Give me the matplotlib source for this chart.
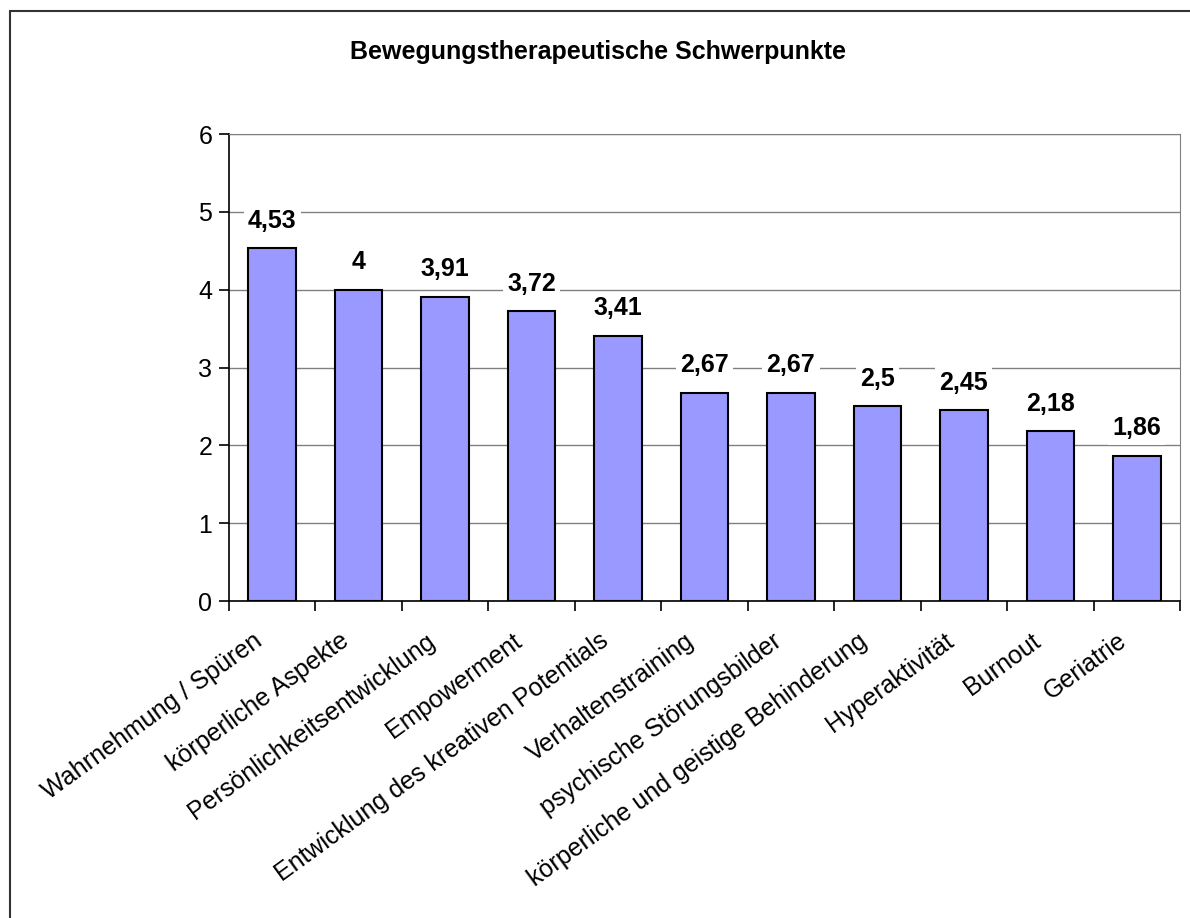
import matplotlib
matplotlib.use("Agg")
import matplotlib.pyplot as plt
from matplotlib.patches import Rectangle

plt.rcParams['font.family'] = ['Liberation Sans', 'DejaVu Sans']

# Daten
kategorien = [
    'Wahrnehmung / Spüren',
    'körperliche Aspekte',
    'Persönlichkeitsentwicklung',
    'Empowerment',
    'Entwicklung des kreativen Potentials',
    'Verhaltenstraining',
    'psychische Störungsbilder',
    'körperliche und geistige Behinderung',
    'Hyperaktivität',
    'Burnout',
    'Geriatrie',
]
werte = [4.53, 4, 3.91, 3.72, 3.41, 2.67, 2.67, 2.5, 2.45, 2.18, 1.86]
y_ticks = [0, 1, 2, 3, 4, 5, 6]
titel = 'Bewegungstherapeutische Schwerpunkte'

fig = plt.figure(figsize=(11.9, 9.18), dpi=100)
ax = fig.add_axes([0.1924, 0.3453, 0.7992, 0.5087])

# Rahmen um das ganze Diagramm
fig.patches.append(Rectangle((10 / 1190, -0.05), 1.1, 0.05 + 1 - 11 / 918,
                             transform=fig.transFigure, fill=False,
                             edgecolor='#333333', linewidth=1.5))

x = list(range(len(kategorien)))
ax.bar(x, werte, width=0.55, color='#9999FF', edgecolor='black', linewidth=1.5, zorder=3)

for xi, v in zip(x, werte):
    txt = f'{v:g}'.replace('.', ',')
    ax.annotate(txt, (xi, v), xytext=(0, 20), textcoords='offset points',
                ha='center', va='center', fontsize=18, fontweight='bold', zorder=4,
                bbox=dict(facecolor='white', edgecolor='none', pad=3))

ax.set_xlim(-0.5, len(kategorien) - 0.5)
ax.set_ylim(0, 6)
ax.set_yticks(y_ticks)
ax.set_yticklabels([str(t) for t in y_ticks], fontsize=18)
ax.yaxis.grid(True, color='#808080', linewidth=1, zorder=0)
ax.set_axisbelow(True)

# Striche an den Kategoriegrenzen, Beschriftung schraeg darunter
ax.set_xticks([i - 0.5 for i in range(len(kategorien) + 1)])
ax.set_xticklabels([])
for xi, kat in zip(x, kategorien):
    ax.annotate(kat, (xi, 0), xytext=(-14, -20), textcoords='offset points',
                rotation=36, ha='right', va='top', rotation_mode='anchor',
                fontsize=18, annotation_clip=False)
ax.tick_params(axis='x', which='major', length=7, width=1.2, direction='out')
ax.tick_params(axis='y', length=7, width=1.2, direction='out', pad=5)

for s in ['top', 'right']:
    ax.spines[s].set_color('#808080')
ax.spines['left'].set_linewidth(1.2)
ax.spines['bottom'].set_linewidth(1.2)

fig.text(0.5025, 0.943, titel, ha='center', va='center', fontsize=18, fontweight='bold')

fig.savefig('out.png', dpi=100)
